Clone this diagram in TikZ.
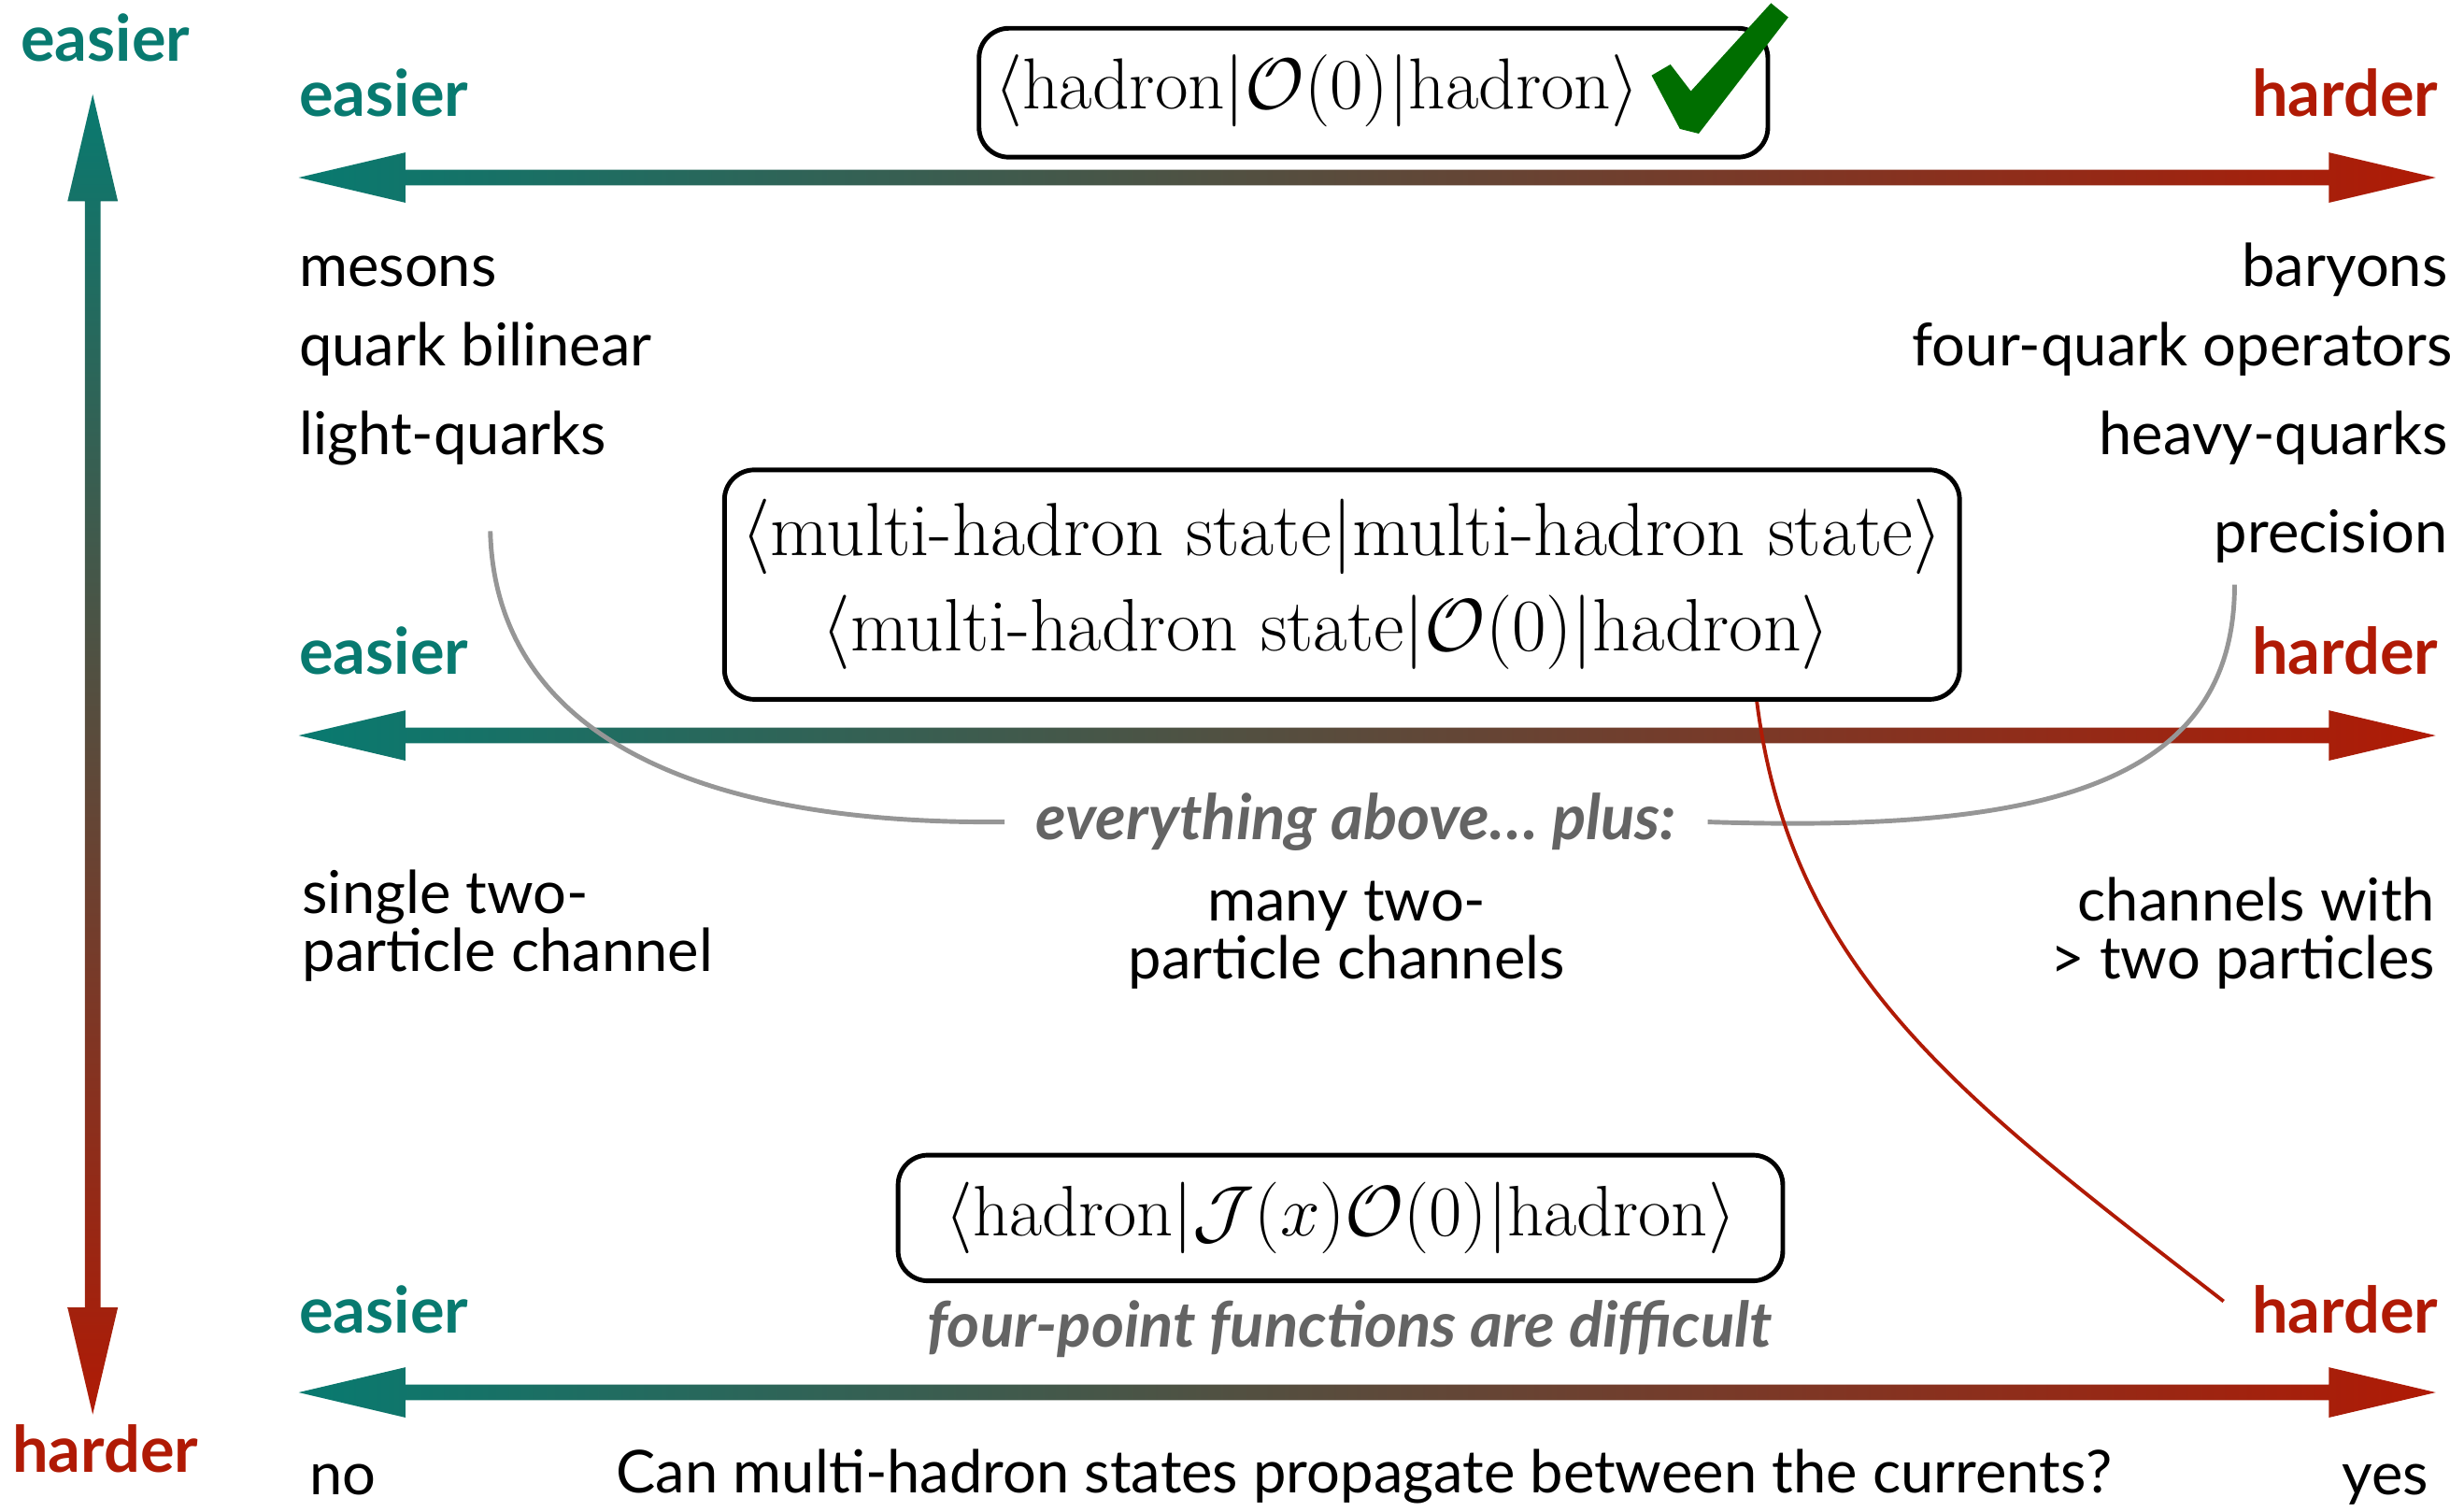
\documentclass[tikz,border=0pt]{standalone}
\usepackage{amsmath}
\usepackage{graphicx}
\usepackage{fontspec}
\setsansfont{Lato}
\usetikzlibrary{calc}
\definecolor{teal1}{RGB}{8,122,112}
\definecolor{red1}{RGB}{176,26,5}
\definecolor{gray1}{RGB}{100,100,100}
\definecolor{gray2}{RGB}{150,150,150}
\definecolor{green1}{RGB}{0,110,0}
\newlength{\pxu}\setlength{\pxu}{0.16818mm}
\newcommand{\hgradarrow}[3]{%
  \shade[left color=teal1,right color=red1] (#1,#3) -- ({#1+68},{#3-16}) -- ({#1+68},{#3-5}) -- ({#2-68},{#3-5}) -- ({#2-68},{#3-16}) -- (#2,#3) -- ({#2-68},{#3+16}) -- ({#2-68},{#3+5}) -- ({#1+68},{#3+5}) -- ({#1+68},{#3+16}) -- cycle;}
\tikzset{
  lab/.style={font=\sffamily\fontsize{18}{17.6}\selectfont, inner sep=0pt},
  easy/.style={font=\sffamily\bfseries\fontsize{19.5}{19.5}\selectfont, inner sep=0pt, text=teal1},
  hard/.style={font=\sffamily\bfseries\fontsize{19.5}{19.5}\selectfont, inner sep=0pt, text=red1},
  note/.style={font=\sffamily\bfseries\itshape\fontsize{19.1}{19.1}\selectfont, inner sep=0pt, text=gray1},
  mathtxt/.style={font=\rmfamily\fontsize{20.74}{29}\selectfont, inner sep=0pt},
  box/.style={draw, line width=1.4pt, rounded corners=3.2mm, mathtxt},
  graycurve/.style={draw=gray2, line width=1.4pt},
  redcurve/.style={draw=red1, line width=1.1pt},
}
\begin{document}
\begin{tikzpicture}[x=0.16818mm, y=-0.16818mm]
\useasboundingbox (0,0) rectangle (1568,962);
% gradient arrows
\shade[top color=teal1,bottom color=red1] (59,60) -- (43,128) -- (54,128) -- (54,832) -- (43,832) -- (59,900) -- (75,832) -- (64,832) -- (64,128) -- (75,128) -- cycle;
\hgradarrow{190}{1550}{113}
\hgradarrow{190}{1550}{468}
\hgradarrow{190}{1550}{886}
% vertical axis labels
\node[easy, anchor=base] (eV) at (67,39) {easier};
\node[hard, anchor=base] (hV) at (67,937) {harder};
% row labels
\node[easy, anchor=base west] (e1) at (190,74) {easier};
\node[hard, anchor=base east] (h1) at (1552,74) {harder};
\node[easy, anchor=base west] (e2) at (190,429) {easier};
\node[hard, anchor=base east] (h2) at (1552,429) {harder};
\node[easy, anchor=base west] (e3) at (190,848) {easier};
\node[hard, anchor=base east] (h3) at (1552,848) {harder};
% box 1
\node[box, minimum width={502*\pxu}, minimum height={82*\pxu}] (box1) at (874,59) {};
\node[mathtxt] (t1) at (838,58) {\scalebox{1.06}{$\langle\text{hadron}|\mathcal{O}(0)|\text{hadron}\rangle$}};
\fill[green1] (1051,48) -- (1063,41) -- (1076,58) -- (1127,2) -- (1138,11) -- (1081,85) -- (1069,82) -- cycle;
% lists
\node[lab, anchor=base west] (m1) at (190,182) {mesons};
\node[lab, anchor=base west] (m2) at (190,233) {quark bilinear};
\node[lab, anchor=base west] (m3) at (190,289) {light-quarks};
\node[lab, anchor=base east] (b1) at (1558,182) {baryons};
\node[lab, anchor=base east] (b2) at (1561,233) {four-quark operators};
\node[lab, anchor=base east] (b3) at (1558,289) {heavy-quarks};
\node[lab, anchor=base east] (b4) at (1558,352) {precision};
% box 2
\node[box, align=center, minimum width={786*\pxu}, minimum height={146*\pxu}] (box2) at (854,372)
  {\scalebox{1.105}{$\langle\text{multi-hadron state}|\text{multi-hadron state}\rangle$}\\
   \scalebox{1.09}{$\langle\text{multi-hadron state}|\mathcal{O}(0)|\text{hadron}\rangle$}\hspace*{3.4mm}};
% everything above
\node[note, inner xsep=3.3mm] (plus) at (863,523) {everything above… plus:};
\coordinate (gl) at (312,338);
\coordinate (gr) at (1422,372);
\draw[graycurve] (gl) .. controls (315,460) and (430,525) .. (plus.west);
\draw[graycurve] (plus.east) .. controls (1300,530) and (1422,500) .. (gr);
% row 2 lower labels
\node[lab, anchor=base west, align=left] (c1) at (192,618) {single two-\\particle channel};
\node[lab, anchor=base, align=center] (c2) at (857,623) {many two-\\particle channels};
\node[lab, anchor=base east, align=right] (c3) at (1550,623) {channels with\\> two particles};
% box 3
\node[box, minimum width={563*\pxu}, minimum height={80*\pxu}] (box3) at (853,775)
  {\scalebox{1.05}{$\langle\text{hadron}|\mathcal{J}(x)\mathcal{O}(0)|\text{hadron}\rangle$}};
\node[note, anchor=base] (fp) at (859,857) {four-point functions are difficult};
% red connector
\coordinate (rend) at (1415,828);
\draw[redcurve] ([xshift={264*\pxu}]box2.south) .. controls (1140,620) and (1250,700) .. (rend);
% bottom
\node[lab, anchor=base] (no) at (218,951) {no};
\node[lab, anchor=base] (q) at (868,950) {Can multi-hadron states propagate between the currents?};
\node[lab, anchor=base] (yes) at (1518,951) {yes};
\end{tikzpicture}
\end{document}
